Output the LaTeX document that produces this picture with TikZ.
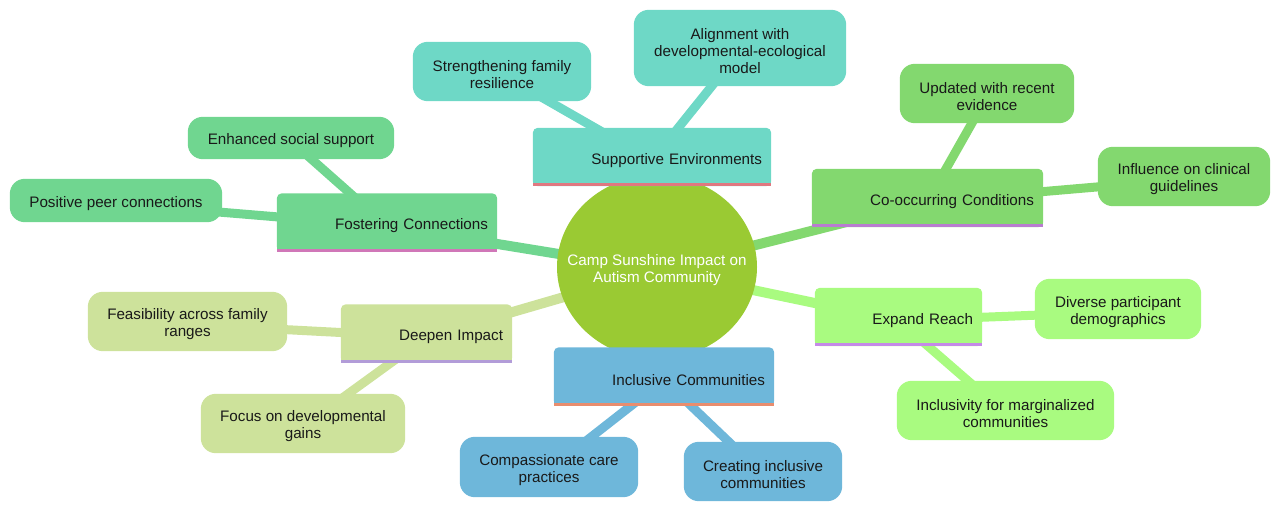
\documentclass[tikz,border=0pt]{standalone}
\usepackage{fontspec}
\setmainfont{Liberation Sans}
\usetikzlibrary{shapes.geometric}
\pgfdeclarelayer{edges}
\pgfdeclarelayer{boxes}
\pgfsetlayers{edges,boxes,main}
\definecolor{cSup}{HTML}{6ED8C6}
\definecolor{cFos}{HTML}{70D690}
\definecolor{cCo}{HTML}{83D86F}
\definecolor{cDeep}{HTML}{CDE29B}
\definecolor{cInc}{HTML}{6EB7DA}
\definecolor{cExp}{HTML}{A9FB80}
\definecolor{cRoot}{HTML}{9ACA33}
\definecolor{uSup}{HTML}{E07880}
\definecolor{uFos}{HTML}{D077B8}
\definecolor{uCo}{HTML}{B97CD0}
\definecolor{uDeep}{HTML}{B29CD8}
\definecolor{uInc}{HTML}{E88D6E}
\definecolor{uExp}{HTML}{C58AE8}
% section box: rounded top, square bottom, coloured underline
\newcommand\mysecshape[3]{%
  \begin{pgfonlayer}{boxes}
    \fill[#2, rounded corners=5pt] ([yshift=3.5pt]#1.south west) rectangle ([yshift=3.5pt]#1.north east);
    \fill[#2] ([yshift=3.5pt]#1.west) rectangle ([yshift=3.5pt]#1.south east);
    \fill[#3] ([yshift=3.5pt]#1.south west) rectangle ([yshift=6.5pt]#1.south east);
  \end{pgfonlayer}}
% leaf box: fully rounded
\newcommand\myleafshape[2]{%
  \begin{pgfonlayer}{boxes}
    \fill[#2, rounded corners=15pt] ([yshift=3pt]#1.south west) rectangle ([yshift=3pt]#1.north east);
  \end{pgfonlayer}}
\begin{document}
\begin{tikzpicture}[x=1pt,y=-1pt,
  every node/.style={font=\fontsize{15.2}{17}\selectfont, text=black!90},
  leaf/.style={align=center, inner sep=0pt, yshift=-3pt},
  sec/.style={inner xsep=9pt, inner ysep=0pt, align=right, minimum height=58pt, yshift=-3.5pt},
  trunk/.style={line width=10pt},
  twig/.style={line width=9pt}]
\useasboundingbox (0,0) rectangle (1280,513);

\node[ellipse, minimum width=200pt, minimum height=184pt, inner xsep=-22pt, inner ysep=0pt,
      text=white, align=center, yshift=-3pt] (root) at (657,267) {Camp Sunshine Impact on\\Autism Community};
\begin{pgfonlayer}{boxes}
\fill[cRoot] ([yshift=3pt]root.center) ellipse [x radius=100pt, y radius=92pt];
\end{pgfonlayer}

% sections
\node[sec, text width=220pt] (sup) at (652,157) {Supportive Environments};
\node[sec, text width=202pt] (fos) at (387,222.5) {Fostering Connections};
\node[sec, text width=213pt] (co) at (927.5,198) {Co-occurring Conditions};
\node[sec, text width=153pt] (deep) at (426.5,333.5) {Deepen Impact};
\node[sec, text width=202pt] (inc) at (664,376.5) {Inclusive Communities};
\node[sec, text width=149pt] (exp) at (898.5,317) {Expand Reach};
\mysecshape{sup}{cSup}{uSup}
\mysecshape{fos}{cFos}{uFos}
\mysecshape{co}{cCo}{uCo}
\mysecshape{deep}{cDeep}{uDeep}
\mysecshape{inc}{cInc}{uInc}
\mysecshape{exp}{cExp}{uExp}

% leaves
\node[leaf, minimum width=178pt, minimum height=59pt] (s1) at (502,71.5) {Strengthening family\\resilience};
\node[leaf, minimum width=212pt, minimum height=76pt] (s2) at (740,48) {Alignment with\\developmental-ecological\\model};
\node[leaf, minimum width=206pt, minimum height=42pt] (f1) at (291,138) {Enhanced social support};
\node[leaf, minimum width=212pt, minimum height=43pt] (f2) at (116,200.5) {Positive peer connections};
\node[leaf, minimum width=174pt, minimum height=59pt] (c1) at (987,93.5) {Updated with recent\\evidence};
\node[leaf, minimum width=172pt, minimum height=59pt] (c2) at (1184,176.5) {Influence on clinical\\guidelines};
\node[leaf, minimum width=166pt, minimum height=60pt] (e1) at (1118,309) {Diverse participant\\demographics};
\node[leaf, minimum width=217pt, minimum height=59pt] (e2) at (1005.5,410.5) {Inclusivity for marginalized\\communities};
\node[leaf, minimum width=199pt, minimum height=59pt] (d1) at (187.5,321.5) {Feasibility across family\\ranges};
\node[leaf, minimum width=204pt, minimum height=59pt] (d2) at (303,423.5) {Focus on developmental\\gains};
\node[leaf, minimum width=178pt, minimum height=60pt] (i1) at (549,467) {Compassionate care\\practices};
\node[leaf, minimum width=158pt, minimum height=59pt] (i2) at (763,471.5) {Creating inclusive\\communities};
\myleafshape{s1}{cSup}
\myleafshape{s2}{cSup}
\myleafshape{f1}{cFos}
\myleafshape{f2}{cFos}
\myleafshape{c1}{cCo}
\myleafshape{c2}{cCo}
\myleafshape{e1}{cExp}
\myleafshape{e2}{cExp}
\myleafshape{d1}{cDeep}
\myleafshape{d2}{cDeep}
\myleafshape{i1}{cInc}
\myleafshape{i2}{cInc}

% edges
\begin{pgfonlayer}{edges}
\draw[trunk, cSup] (root.center) -- (sup.center);
\draw[trunk, cFos] (root.center) -- (fos.center);
\draw[trunk, cCo] (root.center) -- (co.center);
\draw[trunk, cDeep] (root.center) -- (deep.center);
\draw[trunk, cInc] (root.center) -- (inc.center);
\draw[trunk, cExp] (root.center) -- (exp.center);
\draw[twig, cSup] (sup.center) -- (s1.center);
\draw[twig, cSup] (sup.center) -- (s2.center);
\draw[twig, cFos] (fos.center) -- (f1.center);
\draw[twig, cFos] (fos.center) -- (f2.center);
\draw[twig, cCo] (co.center) -- (c1.center);
\draw[twig, cCo] (co.center) -- (c2.center);
\draw[twig, cExp] (exp.center) -- (e1.center);
\draw[twig, cExp] (exp.center) -- (e2.center);
\draw[twig, cDeep] (deep.center) -- (d1.center);
\draw[twig, cDeep] (deep.center) -- (d2.center);
\draw[twig, cInc] (inc.center) -- (i1.center);
\draw[twig, cInc] (inc.center) -- (i2.center);
\end{pgfonlayer}
\end{tikzpicture}
\end{document}
